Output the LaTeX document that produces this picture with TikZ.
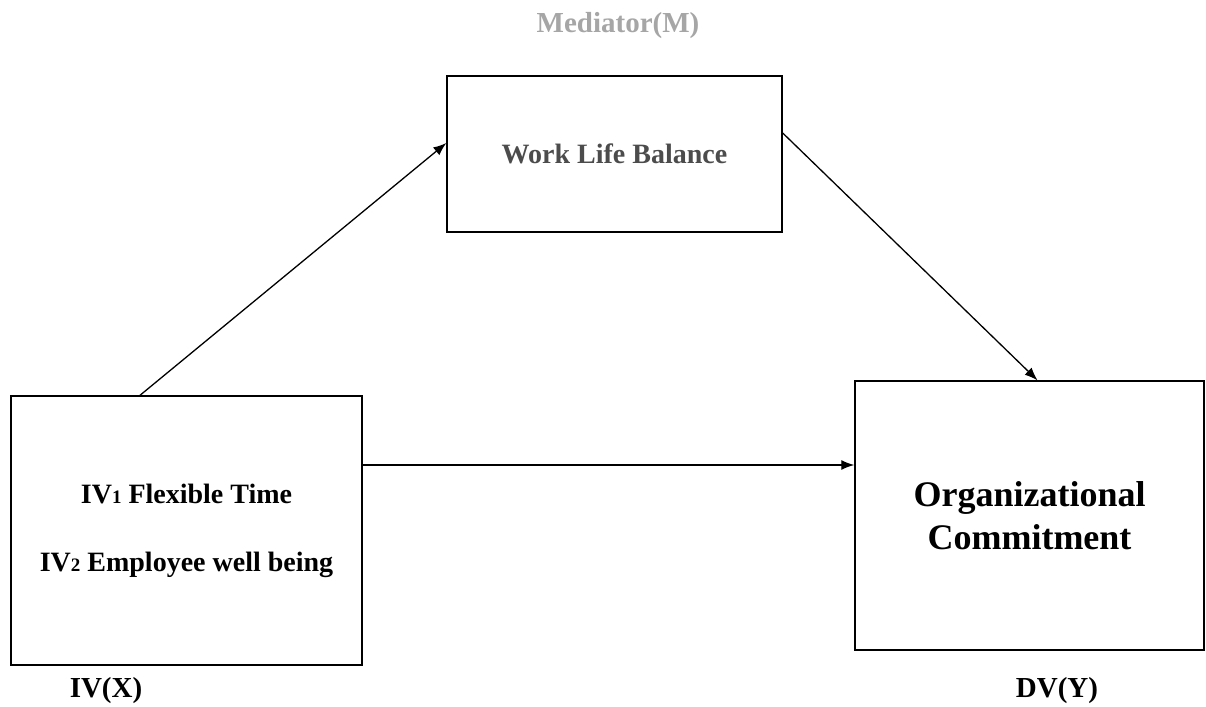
\documentclass[tikz,border=0pt]{standalone}
\usepackage{fontspec}
\setmainfont{Liberation Serif}
\usetikzlibrary{arrows.meta}

\begin{document}
\begin{tikzpicture}[
	x=1pt,y=-1pt,
	box/.style={draw,line width=1.4pt,inner sep=0pt,align=center,font=\bfseries\fontsize{28}{34}\selectfont},
	edge/.style={line width=1.3pt,-{Latex[length=13pt,width=10pt]}},
	tag/.style={font=\bfseries\fontsize{29}{34}\selectfont}
	]
	\def\sub#1{{\fontsize{19}{19}\selectfont #1}}
	\useasboundingbox (0,0) rectangle (1206,706);
	
	\node[box,minimum width=335pt,minimum height=156pt,text=black!70] (med) at (614.5,154) {Work Life Balance};
	\node[tag,text=black!35] (medlab) at (618,26) {Mediator(M)};
	
	\node[box,minimum width=351pt,minimum height=269pt] (iv) at (186.5,530.5) {IV\sub{1} Flexible Time\\[34pt]IV\sub{2} Employee well being};
	\node[tag] (ivlab) at (106,691) {IV(X)};
	
	\node[box,minimum width=349pt,minimum height=269pt,font=\bfseries\fontsize{36}{43}\selectfont] (dv) at (1029.5,515.5) {Organizational\\Commitment};
	\node[tag] (dvlab) at (1057,691) {DV(Y)};
	
	\draw[edge] ([xshift=-46.5pt]iv.north) -- ([yshift=11pt]med.west);
	\draw[edge] ([yshift=21pt]med.east) -- ([xshift=8pt]dv.north);
	\draw[edge] ([yshift=65.5pt]iv.east) -- ([yshift=50.5pt]dv.west);
\end{tikzpicture}
\end{document}
